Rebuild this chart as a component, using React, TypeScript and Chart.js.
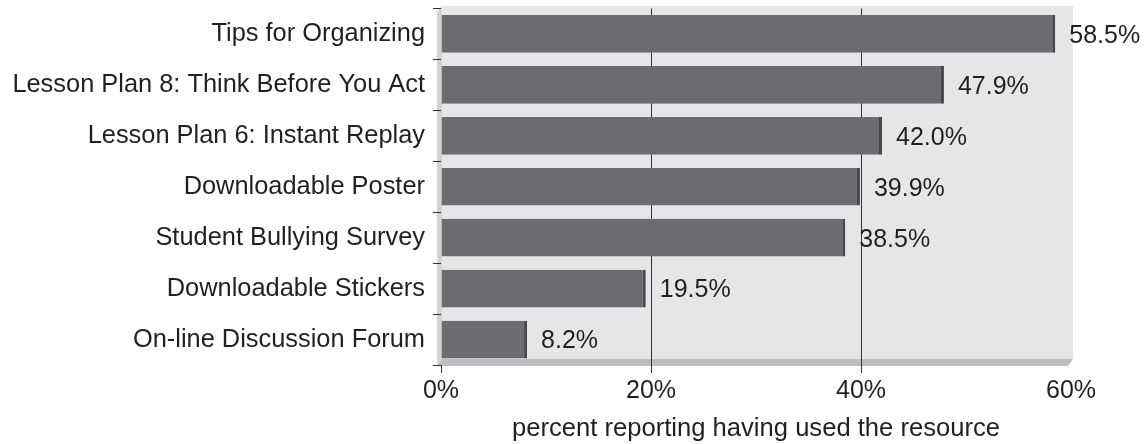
import React, { useEffect, useRef } from "react";
import { Chart, registerables } from "chart.js";

Chart.register(...registerables);

const categories = [
  "Tips for Organizing",
  "Lesson Plan 8: Think Before You Act",
  "Lesson Plan 6: Instant Replay",
  "Downloadable Poster",
  "Student Bullying Survey",
  "Downloadable Stickers",
  "On-line Discussion Forum",
];
const values = [58.5, 47.9, 42.0, 39.9, 38.5, 19.5, 8.2];
const xTicks = [0, 20, 40, 60];
const axisTitle = "percent reporting having used the resource";

const FONT = "'Liberation Sans', Arial, Helvetica, sans-serif";
const TEXT = "#231f20";

const wallPlugin = {
  id: "wall3d",
  beforeDraw(chart: any) {
    const { ctx, chartArea: ca } = chart;
    ctx.save();
    // back wall
    ctx.fillStyle = "#e6e6e8";
    ctx.fillRect(ca.left + 1, ca.top - 2.5, ca.right + 2 - (ca.left + 1), ca.bottom - 6 - (ca.top - 2.5));
    // left wall
    ctx.fillStyle = "#d2d3d5";
    ctx.beginPath();
    ctx.moveTo(ca.left - 4, ca.top + 3);
    ctx.lineTo(ca.left + 1, ca.top - 2.5);
    ctx.lineTo(ca.left + 1, ca.bottom - 6);
    ctx.lineTo(ca.left - 4, ca.bottom + 1);
    ctx.closePath();
    ctx.fill();
    // floor
    ctx.fillStyle = "#bcbdbf";
    ctx.beginPath();
    ctx.moveTo(ca.left - 4, ca.bottom + 1);
    ctx.lineTo(ca.right - 3, ca.bottom + 1);
    ctx.lineTo(ca.right + 2, ca.bottom - 6);
    ctx.lineTo(ca.left + 1, ca.bottom - 6);
    ctx.closePath();
    ctx.fill();
    ctx.restore();
  },
};

const labelPlugin = {
  id: "barLabels",
  afterDatasetsDraw(chart: any) {
    const { ctx } = chart;
    const meta = chart.getDatasetMeta(0);
    ctx.save();
    ctx.font = `25px ${FONT}`;
    ctx.fillStyle = TEXT;
    ctx.textAlign = "left";
    ctx.textBaseline = "middle";
    meta.data.forEach((bar: any, i: number) => {
      ctx.fillText(values[i].toFixed(1) + "%", bar.x + 14, bar.y + 2);
    });
    ctx.restore();
  },
};

export default function App() {
  const ref = useRef<HTMLCanvasElement | null>(null);

  useEffect(() => {
    if (!ref.current) return;
    const chart = new Chart(ref.current, {
      type: "bar",
      data: {
        labels: categories,
        datasets: [
          {
            data: values,
            backgroundColor: "#6b6c70",
            borderColor: "#46474a",
            borderWidth: { top: 0, right: 3, bottom: 0, left: 0 },
            borderSkipped: false,
            categoryPercentage: 1,
            barPercentage: 0.74,
          },
        ],
      },
      options: {
        indexAxis: "y",
        responsive: false,
        animation: false,
        layout: { padding: { top: 8.5, right: 73, left: 0, bottom: 0 } },
        plugins: {
          legend: { display: false },
          tooltip: { enabled: false },
        },
        scales: {
          x: {
            type: "linear",
            min: 0,
            max: 60,
            afterBuildTicks: (scale: any) => {
              scale.ticks = xTicks.map((v) => ({ value: v }));
            },
            afterFit: (scale: any) => {
              scale.height = 79;
              scale.paddingLeft = 0;
              scale.paddingRight = 0;
            },
            border: { display: false },
            grid: {
              color: (c: any) =>
                c.tick && (c.tick.value === 20 || c.tick.value === 40) ? "#333333" : "rgba(0,0,0,0)",
              tickColor: (c: any) => (c.tick && c.tick.value === 60 ? "rgba(0,0,0,0)" : "#333333"),
              tickLength: 8,
              lineWidth: 1,
            },
            ticks: {
              callback: (v: any) => v + "%",
              font: { family: FONT, size: 25 },
              color: TEXT,
              padding: 3,
              maxRotation: 0,
            },
            title: {
              display: true,
              text: axisTitle,
              font: { family: FONT, size: 25.6 },
              color: TEXT,
              padding: { top: 6, bottom: 0 },
            },
          },
          y: {
            type: "category",
            afterFit: (scale: any) => {
              scale.width = 441;
              scale.paddingTop = 0;
              scale.paddingBottom = 0;
            },
            border: { display: false },
            grid: {
              offset: true,
              drawOnChartArea: false,
              tickLength: 8,
              tickColor: "#333333",
            },
            ticks: {
              font: { family: FONT, size: 25.4 },
              color: TEXT,
              padding: 8,
            },
          },
        },
      },
      plugins: [wallPlugin, labelPlugin],
    });
    return () => chart.destroy();
  }, []);

  return (
    <div style={{ position: "fixed", left: 0, top: 0, width: 1144, height: 444, background: "#fff" }}>
      <canvas ref={ref} width={1144} height={444} />
    </div>
  );
}
